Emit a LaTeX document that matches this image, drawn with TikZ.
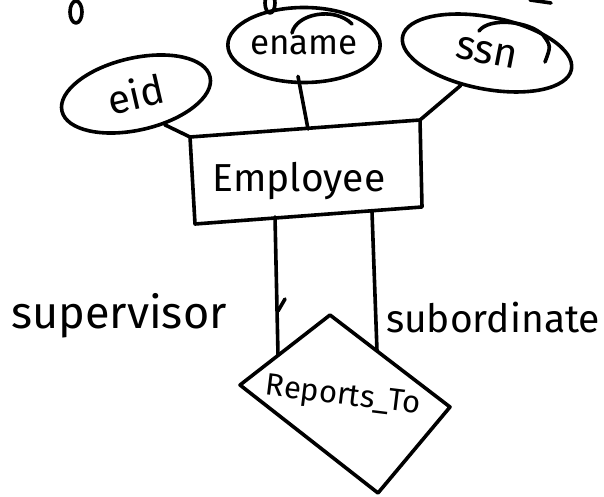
\documentclass[tikz,border=0pt]{standalone}
\usepackage{fontspec}
\setmainfont{Fira Sans}
\usetikzlibrary{shapes.geometric}
\begin{document}
\begin{tikzpicture}[x=1pt,y=-1pt,
  pen/.style={line width=3.6pt, line cap=round, line join=round},
  attr/.style={pen, draw, ellipse, inner sep=0pt},
  word/.style={inner sep=0pt, anchor=center}]
\useasboundingbox (0,0) rectangle (604,497);
\clip (0,0) rectangle (604,497);

% strokes of the line above, cut by the page edge
\draw[pen] (76,12) ellipse [x radius=6, y radius=11];
\draw[pen] (270,3) ellipse [x radius=5, y radius=10];
\draw[pen] (530,0) -- (551,3);

% attributes
\node[attr, minimum width=152, minimum height=72, rotate=13,
      font=\fontsize{40}{40}\selectfont] (eid) at (136,94) {eid};

\node[attr, minimum width=148, minimum height=75,
      font=\fontsize{35}{35}\selectfont] (ename) at (304,45) {ename};
\draw[pen] (292,33) .. controls (296,14) and (334,6) .. (352,24);

\node[attr, minimum width=172, minimum height=72, rotate=-11,
      font=\fontsize{41}{41}\selectfont] (ssn) at (487,53) {ssn};
\draw[pen] (479,31) .. controls (489,17) and (529,21) .. (543,35) .. controls (551,46) .. (545,62);

% entity
\coordinate (bTL) at (190,137);
\coordinate (bTR) at (420,120);
\coordinate (bBR) at (422,207);
\coordinate (bBL) at (195,224);
\coordinate (bTop) at (308,129);
\draw[pen] (bTL) -- (bTR) -- (bBR) -- (bBL) -- cycle;
\node[word, font=\fontsize{39}{39}\selectfont] (emp) at (299,181) {Employee};

% attribute links
\draw[pen] (eid.-60) -- (bTL);
\draw[pen] ([shift={(-6,-8)}]ename.south) -- (bTop);
\draw[pen] (ssn.-118) -- (bTR);

% relationship
\coordinate (dT) at (330,315);
\coordinate (dL) at (240,385);
\coordinate (dR) at (450,407);
\coordinate (dB) at (378,493);
\draw[pen] (dT) -- (dR) -- (dB) -- (dL) -- cycle;
\node[word, font=\fontsize{31}{31}\selectfont, rotate=-7] (rep) at (343,397) {Reports\_To};

% role links
\coordinate (sTop) at (275,217);
\coordinate (sBot) at (278,355);
\coordinate (oTop) at (372,212);
\coordinate (oBot) at (377,351);
\draw[pen] (sTop) -- (sBot);
\draw[pen] (285,299) -- (278,311);
\draw[pen] (oTop) -- (oBot);

\node[word, font=\fontsize{45}{45}\selectfont] (sup) at (119,316) {supervisor};
\node[word, font=\fontsize{39}{39}\selectfont] (sub) at (493,318) {subordinate};
\end{tikzpicture}
\end{document}
